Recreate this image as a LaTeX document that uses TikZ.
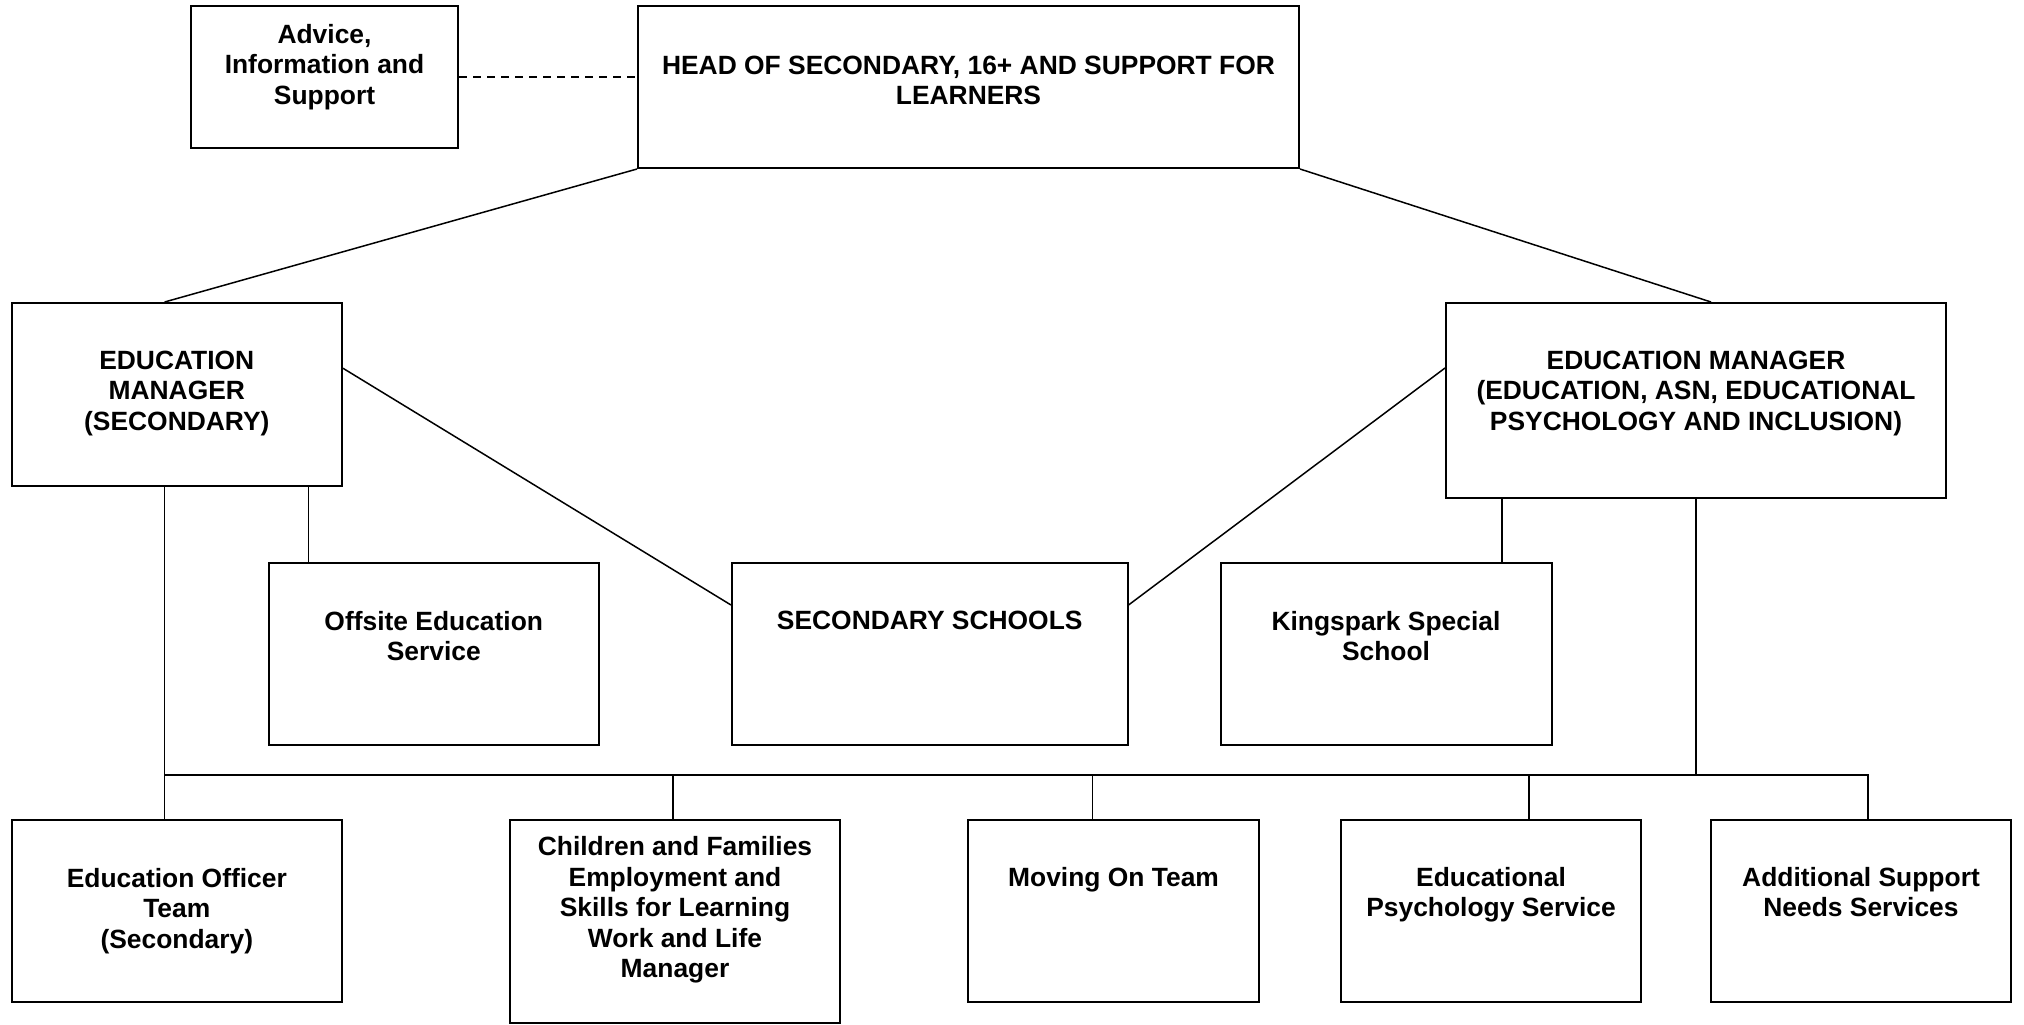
\documentclass[tikz,border=0pt]{standalone}
\usepackage{fontspec}
\setmainfont{Liberation Sans}
\usetikzlibrary{fit,positioning}

\begin{document}
\begin{tikzpicture}[x=0.5pt,y=-0.5pt,
  box/.style={draw,line width=1pt,inner sep=0pt},
  txt/.style={align=center,inner sep=0pt,font=\fontsize{13.2}{15.3}\selectfont\bfseries},
  link/.style={line width=0.75pt}]
\useasboundingbox (0,0) rectangle (2024,1024);

% boxes
\foreach \n/\xa/\ya/\xb/\yb in {advice/191/6/458/148, head/638/6/1299/168,
  emsec/11.6/303/342/485.5, emasn/1446/303/1946/498,
  offsite/268.5/563/599/745, secsch/732/563/1127.5/745, kings/1220.5/563/1551.5/745,
  eot/11.6/820/342/1002, cfe/510/820/840/1023, moving/968/820/1259/1002,
  edpsy/1341/820/1641/1002, asn/1711/820/2011/1002}
  \node[box,fit={(\xa,\ya) (\xb,\yb)}] (\n) {};

% texts
\node[txt,below=9.25pt of advice.north] (advice-t) {Advice,\\Information and\\Support};
\node[txt,below=25.25pt of head.north] (head-t) {HEAD OF SECONDARY, 16+ AND SUPPORT FOR\\LEARNERS};
\node[txt,below=24.25pt of emsec.north] (emsec-t) {EDUCATION\\MANAGER\\(SECONDARY)};
\node[txt,below=24.25pt of emasn.north] (emasn-t) {EDUCATION MANAGER\\(EDUCATION, ASN, EDUCATIONAL\\PSYCHOLOGY AND INCLUSION)};
\node[txt,below=24.25pt of offsite.north] (offsite-t) {Offsite Education\\Service};
\node[txt,below=24.25pt of secsch.north] (secsch-t) {SECONDARY SCHOOLS};
\node[txt,below=24.25pt of kings.north] (kings-t) {Kingspark Special\\School};
\node[txt,below=24.25pt of eot.north] (eot-t) {Education Officer\\Team\\(Secondary)};
\node[txt,below=8.5pt of cfe.north] (cfe-t) {Children and Families\\Employment and\\Skills for Learning\\Work and Life\\Manager};
\node[txt,below=24.15pt of moving.north] (moving-t) {Moving On Team};
\node[txt,below=23.75pt of edpsy.north] (edpsy-t) {Educational\\Psychology Service};
\node[txt,below=23.75pt of asn.north] (asn-t) {Additional Support\\Needs Services};

% links
\draw[link,dash pattern=on 4pt off 3pt] (advice.east) -- (advice.east -| head.west);
\draw[link] (head.south west) -- ([xshift=-6.1pt]emsec.north);
\draw[link] (head.south east) -- ([xshift=7.5pt]emasn.north);
\draw[link] ([yshift=13pt]emsec.east) -- ([yshift=24.5pt]secsch.west);
\draw[link] ([yshift=16.25pt]emasn.west) -- ([yshift=24.5pt]secsch.east);
\draw[link] ([xshift=-6.1pt]emsec.south) -- ([xshift=-6.1pt]eot.north);
\draw[link] ([xshift=65.85pt]emsec.south) coordinate (off-in) -- (off-in |- offsite.north);
\draw[link] ([xshift=-97pt]emasn.south) coordinate (kings-in) -- (kings-in |- kings.north);

% bus
\coordinate (bus) at (0,775);
\coordinate (eot-in) at ([xshift=-6.1pt]eot.north);
\coordinate (asn-in) at ([xshift=3.5pt]asn.north);
\draw[link] (eot-in |- bus) -- (asn-in |- bus) -- (asn-in);
\draw[link] (emasn.south) -- (emasn.south |- bus);
\foreach \n/\s in {cfe/-1, moving/-10.4, edpsy/19}
  \draw[link] ([xshift=\s pt]\n.north) coordinate (\n-in) -- (\n-in |- bus);
\end{tikzpicture}
\end{document}
